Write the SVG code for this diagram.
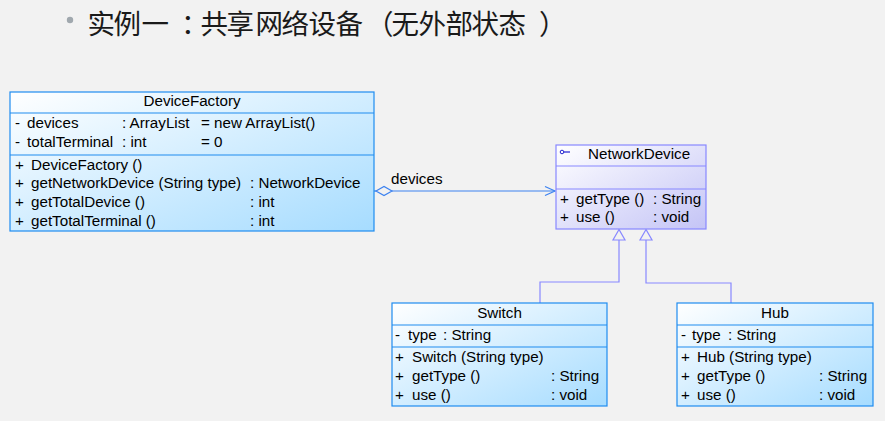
<svg xmlns="http://www.w3.org/2000/svg" width="885" height="421" viewBox="0 0 885 421">
<defs>
<linearGradient id="gBlue" x1="0" y1="0" x2="1" y2="1">
<stop offset="0" stop-color="#ffffff"/>
<stop offset="1" stop-color="#a6dcff"/>
</linearGradient>
<linearGradient id="gLav" x1="0" y1="0" x2="1" y2="1">
<stop offset="0" stop-color="#ffffff"/>
<stop offset="1" stop-color="#c4c4f6"/>
</linearGradient>
<style>
.t{font-family:"Liberation Sans",Arial,sans-serif;font-size:15.2px;fill:#000}
.c{text-anchor:middle}
.bb{fill:url(#gBlue);stroke:#1e8cf0;stroke-width:1.2}
.bl{stroke:#1e8cf0;stroke-width:1.2}
.lb{fill:url(#gLav);stroke:#8888ff;stroke-width:1.2}
.ll{stroke:#8888ff;stroke-width:1.2}
.con{fill:none;stroke:#3c82f0;stroke-width:1.2}
.gen{fill:none;stroke:#8888ff;stroke-width:1.2}
.ti{font-family:"Noto Sans CJK SC",sans-serif;font-size:27.5px;fill:#1a1a1a}
</style>
</defs>
<rect width="885" height="421" fill="#f2f2f2"/>
<g id="title">
<circle cx="70" cy="20" r="3.2" fill="#a0a8ae"/>
<text class="ti" x="87.5 113.5 141.5 181 200.5 226.5 255.5 281.5 308.5 335.5 366 391.5 418.5 445.5 471.5 498.5 539" y="34">实例一：共享网络设备（无外部状态）</text>
</g>
<g id="connectors">
<line class="con" x1="352" y1="191" x2="376" y2="191"/>
<polygon points="376,191 384,186.5 392,191 384,195.5" fill="#f2f2f2" stroke="#3c82f0" stroke-width="1.2"/>
<line class="con" x1="392" y1="191" x2="555" y2="191"/>
<polyline class="con" points="545,186.5 555,191 545,195.5"/>
<text class="t" x="391" y="184">devices</text>
<polyline class="gen" points="619,240 619,282 540,282 540,303"/>
<polygon points="619,229.5 613,240 625,240" fill="#f2f2f2" stroke="#8888ff" stroke-width="1.2"/>
<polyline class="gen" points="646,240 646,283 731,283 731,303"/>
<polygon points="646,229.5 640,240 652,240" fill="#f2f2f2" stroke="#8888ff" stroke-width="1.2"/>
</g>
<g id="DeviceFactory">
<rect class="bb" x="10" y="92" width="364" height="139"/>
<line class="bl" x1="10" y1="113" x2="374" y2="113"/>
<line class="bl" x1="10" y1="155" x2="374" y2="155"/>
<text class="t c" x="192" y="106">DeviceFactory</text>
<text class="t" x="15" y="128">-</text><text class="t" x="27" y="128">devices</text><text class="t" x="122" y="128">: ArrayList</text><text class="t" x="201" y="128">= new ArrayList()</text>
<text class="t" x="15" y="147">-</text><text class="t" x="27" y="147">totalTerminal</text><text class="t" x="122" y="147">: int</text><text class="t" x="201" y="147">= 0</text>
<text class="t" x="15" y="170">+</text><text class="t" x="31" y="170">DeviceFactory ()</text>
<text class="t" x="15" y="188">+</text><text class="t" x="31" y="188">getNetworkDevice (String type)</text><text class="t" x="250" y="188">: NetworkDevice</text>
<text class="t" x="15" y="207">+</text><text class="t" x="31" y="207">getTotalDevice ()</text><text class="t" x="250" y="207">: int</text>
<text class="t" x="15" y="226">+</text><text class="t" x="31" y="226">getTotalTerminal ()</text><text class="t" x="250" y="226">: int</text>
</g>
<g id="NetworkDevice">
<rect class="lb" x="556" y="145" width="150" height="84"/>
<line class="ll" x1="556" y1="166" x2="706" y2="166"/>
<line class="ll" x1="556" y1="189" x2="706" y2="189"/>
<circle cx="562" cy="152" r="1.8" fill="none" stroke="#2020d0" stroke-width="1"/>
<line x1="564" y1="152" x2="570" y2="152" stroke="#2020d0" stroke-width="1.2"/>
<text class="t" x="588" y="159">NetworkDevice</text>
<text class="t" x="560" y="204">+</text><text class="t" x="576" y="204">getType ()</text><text class="t" x="653" y="204">: String</text>
<text class="t" x="560" y="222">+</text><text class="t" x="576" y="222">use ()</text><text class="t" x="653" y="222">: void</text>
</g>
<g id="Switch">
<rect class="bb" x="392" y="303" width="215" height="103"/>
<line class="bl" x1="392" y1="325" x2="607" y2="325"/>
<line class="bl" x1="392" y1="347" x2="607" y2="347"/>
<text class="t c" x="499.5" y="318">Switch</text>
<text class="t" x="395" y="340">-</text><text class="t" x="408" y="340">type</text><text class="t" x="443" y="340">: String</text>
<text class="t" x="395" y="362">+</text><text class="t" x="412" y="362">Switch (String type)</text>
<text class="t" x="395" y="381">+</text><text class="t" x="412" y="381">getType ()</text><text class="t" x="551" y="381">: String</text>
<text class="t" x="395" y="400">+</text><text class="t" x="412" y="400">use ()</text><text class="t" x="551" y="400">: void</text>
</g>
<g id="Hub">
<rect class="bb" x="677" y="303" width="196" height="103"/>
<line class="bl" x1="677" y1="325" x2="873" y2="325"/>
<line class="bl" x1="677" y1="347" x2="873" y2="347"/>
<text class="t c" x="775" y="318">Hub</text>
<text class="t" x="681" y="340">-</text><text class="t" x="692" y="340">type</text><text class="t" x="728" y="340">: String</text>
<text class="t" x="681" y="362">+</text><text class="t" x="697" y="362">Hub (String type)</text>
<text class="t" x="681" y="381">+</text><text class="t" x="697" y="381">getType ()</text><text class="t" x="819" y="381">: String</text>
<text class="t" x="681" y="400">+</text><text class="t" x="697" y="400">use ()</text><text class="t" x="819" y="400">: void</text>
</g>
</svg>
